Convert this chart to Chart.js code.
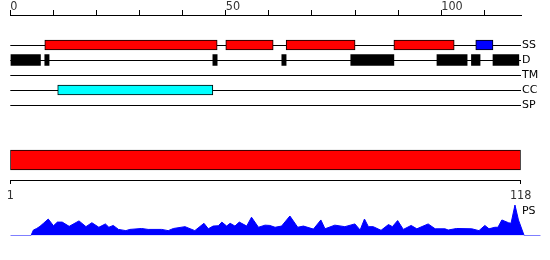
<!DOCTYPE html>
<html><head><meta charset="utf-8">
<script src="https://cdn.jsdelivr.net/npm/chart.js@4/dist/chart.umd.min.js"></script>
<style>
html,body{margin:0;padding:0;background:#fff;}
#wrap{position:relative;width:550px;height:260px;}
#wrap canvas{position:absolute;left:0;top:0;}
</style></head><body>
<div id="wrap">
<canvas id="c1" width="550" height="260"></canvas>
<canvas id="c2" width="550" height="260"></canvas>
<canvas id="c3" width="550" height="260"></canvas>
</div>
<script>
// ---- data ----
const trackLabels = ['', '', 'SS', 'D', 'TM', 'CC', 'SP'];
const ssHelixStart = [8, 50, 64, 89];
const ssHelixEnd   = [48, 61, 80, 103];
const ssStrandStart = [108];
const ssStrandEnd   = [112];
const disorderStart = [0, 8, 47, 63, 79, 99, 107, 112];
const disorderEnd   = [7, 9, 48, 64, 89, 106, 109, 118];
const ccStart = [11];
const ccEnd   = [47];
const topTickLabels = [0, 50, 100];
const seqStart = 1;
const seqLength = 118;
const bottomTickLabels = [1, 118];
const psPos = [1, 5.75, 6.3, 7.05, 7.8, 8.6, 9.7, 10.9, 11.8, 12.9, 14.5, 16.75, 18.35, 19.7, 21.3, 22.8, 23.6, 24.6, 25.8, 27.5, 28.4, 31.1, 32.6, 35.7, 37.2, 38.4, 41.05, 43.3, 45.4, 46.4, 47.5, 48.7, 49.5, 50.6, 51.4, 52.5, 53.5, 55.2, 56.3, 57.9, 59.4, 60.5, 61.7, 63.2, 65.1, 66.9, 68.2, 70.5, 72.2, 73.15, 75.4, 77.7, 80.0, 81.2, 82.2, 83.1, 84.2, 86.0, 87.7, 88.6, 89.8, 91.1, 92.9, 94.2, 96.8, 98.4, 100.65, 101.4, 103.3, 106.8, 108.45, 109.8, 110.75, 112.1, 112.8, 113.7, 115.2, 115.8, 116.7, 117.5, 118.8, 122.6];
const psVal = [0, 0, .18, .23, .30, .40, .54, .32, .44, .44, .30, .48, .29, .42, .27, .38, .27, .33, .20, .16, .20, .23, .20, .20, .16, .23, .29, .16, .40, .22, .31, .32, .44, .31, .40, .31, .44, .31, .60, .27, .34, .33, .27, .31, .64, .27, .31, .21, .51, .22, .34, .29, .38, .18, .54, .29, .29, .17, .36, .29, .49, .20, .33, .22, .38, .22, .22, .18, .23, .22, .16, .33, .22, .27, .27, .51, .42, .40, 1.0, .51, 0, 0];
const psLabel = 'PS';

// ---- charts ----
const numFamily = "'DejaVu Sans Condensed', 'DejaVu Sans', sans-serif";
Chart.defaults.font.family = "'DejaVu Sans', sans-serif";
Chart.defaults.color = '#000';
Chart.defaults.animation = false;
const pairs = (s, e, row) => s.map((v, i) => ({x: [v, e[i]], y: row}));
const common = {responsive: false, maintainAspectRatio: false, animation: false,
  plugins: {legend: {display: false}, tooltip: {enabled: false}}};

new Chart(document.getElementById('c1'), {
  type: 'bar',
  data: {labels: trackLabels, datasets: [
    {data: pairs(ssHelixStart, ssHelixEnd, 'SS'), backgroundColor: '#ff0000', borderColor: '#000', borderWidth: 1, borderSkipped: false, barThickness: 10, grouped: false},
    {data: pairs(ssStrandStart, ssStrandEnd, 'SS'), backgroundColor: '#0000ff', borderColor: '#000', borderWidth: 1, borderSkipped: false, barThickness: 10, grouped: false},
    {data: pairs(disorderStart, disorderEnd, 'D'), backgroundColor: '#000', borderColor: '#000', borderWidth: 0, barThickness: 11, grouped: false},
    {data: pairs(ccStart, ccEnd, 'CC'), backgroundColor: '#00ffff', borderColor: '#000', borderWidth: 1, borderSkipped: false, barThickness: 10, grouped: false}
  ]},
  options: Object.assign({}, common, {
    indexAxis: 'y',
    layout: {padding: {left: 10.3, top: 0, right: 0, bottom: 155}},
    scales: {
      x: {type: 'linear', position: 'top', min: 0, max: 118.5,
        afterBuildTicks: s => { s.ticks = s.ticks.filter(t => t.value % 10 === 0); },
        ticks: {stepSize: 10, autoSkip: false, maxRotation: 0, align: 'start', padding: 0, color: '#333',
          font: {size: 12.5, family: numFamily, lineHeight: 0.6},
          callback: v => topTickLabels.includes(v) ? String(v) : ''},
        grid: {drawOnChartArea: false, drawTicks: true, tickLength: 5, color: '#000', lineWidth: 1},
        border: {display: true, color: '#000', width: 1},
        afterFit: s => { s.height = 15; }
      },
      y: {type: 'category', position: 'right', offset: false,
        grid: {offset: false, drawTicks: false, lineWidth: 1,
          color: c => (c.tick && c.tick.label) ? '#000' : 'rgba(0,0,0,0)'},
        border: {display: false},
        ticks: {padding: 1, font: {size: 11}, color: '#000', autoSkip: false},
        afterFit: s => { s.width = 29; }
      }
    }
  })
});

new Chart(document.getElementById('c2'), {
  type: 'bar',
  data: {labels: ['seq'], datasets: [
    {data: [{x: [seqStart, seqLength], y: 'seq'}], backgroundColor: '#ff0000', borderColor: '#000', borderWidth: 1, borderSkipped: false, barThickness: 20}
  ]},
  options: Object.assign({}, common, {
    indexAxis: 'y',
    layout: {padding: {left: 10.3, top: 140, right: 29.3, bottom: 0}},
    scales: {
      x: {type: 'linear', position: 'bottom', min: seqStart, max: seqLength,
        afterBuildTicks: s => { s.ticks = bottomTickLabels.map(v => ({value: v})); },
        ticks: {autoSkip: false, maxRotation: 0, padding: 4, font: {size: 12.5, family: numFamily}, color: '#333'},
        grid: {drawOnChartArea: false, drawTicks: true, tickLength: 4, color: '#000'},
        border: {display: true, color: '#000', width: 1},
        afterFit: s => { s.height = 80; }
      },
      y: {display: false}
    }
  })
});

const psLabelPlugin = {
  id: 'psLabel',
  afterDraw(chart) {
    const {ctx, scales: {x, y}} = chart;
    ctx.save();
    ctx.font = "11px 'DejaVu Sans', sans-serif";
    ctx.fillStyle = '#000';
    ctx.textAlign = 'left';
    ctx.textBaseline = 'middle';
    ctx.fillText(psLabel, x.getPixelForValue(118.3), y.getPixelForValue(0.8));
    ctx.restore();
  }
};

new Chart(document.getElementById('c3'), {
  type: 'line',
  data: {datasets: [
    {data: psPos.map((p, i) => ({x: p, y: psVal[i]})), borderColor: '#0000ff', backgroundColor: '#0000ff', fill: 'origin', borderWidth: 1, pointRadius: 0, tension: 0}
  ]},
  options: Object.assign({}, common, {
    layout: {padding: {left: 10.3, top: 202, right: 9.3, bottom: 24.5}},
    scales: {
      x: {type: 'linear', display: false, min: 1, max: 122.6},
      y: {type: 'linear', display: false, min: 0, max: 1.1}
    }
  }),
  plugins: [psLabelPlugin]
});
</script>
</body></html>
